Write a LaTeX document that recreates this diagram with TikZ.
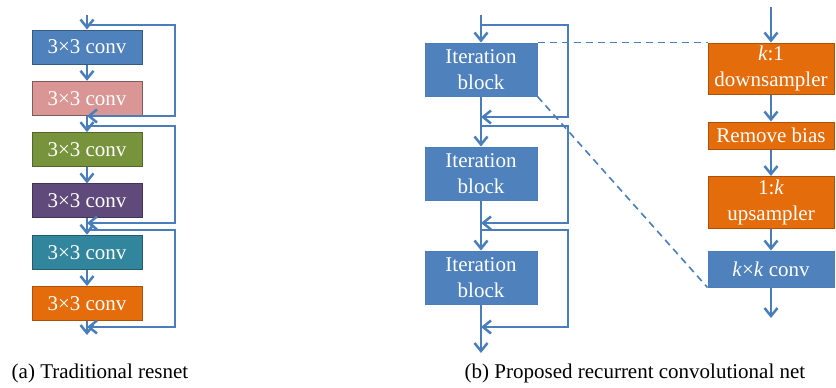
\documentclass[tikz,border=0pt]{standalone}
\usepackage{fontspec}
\setmainfont{Liberation Serif}
\usepackage{tikz}
\usetikzlibrary{arrows.meta,positioning}
\definecolor{lineblue}{HTML}{4A7EBB}
\definecolor{officeblue}{HTML}{4F81BD}
\definecolor{officepink}{HTML}{D99694}
\definecolor{officegreen}{HTML}{77933C}
\definecolor{officepurple}{HTML}{604A7B}
\definecolor{officeteal}{HTML}{31859C}
\definecolor{officeorange}{HTML}{E46C0A}
\tikzstyle{block} = [rectangle, draw, line width=1pt, text=white, inner sep=0pt,
    align=center, font=\fontsize{21}{26}\selectfont]
\tikzstyle{conv} = [block, minimum width=110pt, minimum height=34pt]
\tikzstyle{iter} = [block, fill=officeblue, draw=lineblue, minimum width=112pt, minimum height=53pt]
\tikzstyle{side} = [block, minimum width=126pt]
\tikzstyle{line} = [draw=lineblue, line width=2.5pt, -{Straight Barb[length=8pt,width=13pt]}]
\tikzstyle{zoomline} = [draw=lineblue, line width=1.6pt, dash pattern=on 7pt off 5pt]

\begin{document}
\begin{tikzpicture}[x=1pt, y=-1pt, on grid]
  \useasboundingbox (0,0) rectangle (836,388);
   % Traditional resnet
    \node [conv, fill=officeblue, draw=officeblue!70!black] at (87,47) (c1) {3×3 conv};
    \node [conv, fill=officepink, draw=officepink!60!black, below=51.3pt of c1] (c2) {3×3 conv};
    \node [conv, fill=officegreen, draw=officegreen!70!black, below=51.3pt of c2] (c3) {3×3 conv};
    \node [conv, fill=officepurple, draw=officepurple!70!black, below=51.3pt of c3] (c4) {3×3 conv};
    \node [conv, fill=officeteal, draw=officeteal!70!black, below=51.3pt of c4] (c5) {3×3 conv};
    \node [conv, fill=officeorange, draw=officeorange!75!black, below=51.3pt of c5] (c6) {3×3 conv};
    \coordinate (rin) at (87,15);
    \coordinate (rout) at (87,335);
    \coordinate (rj1) at (87,25);
    \coordinate (rm1) at (87,116);
    \coordinate (rj2) at (87,126);
    \coordinate (rm2) at (87,223);
    \coordinate (rj3) at (87,230);
    \coordinate (rm3) at (87,327);
    \path [line] (rin) -- (c1);
    \path [line] (c1) -- (c2);
    \path [line] (c2) -- (c3);
    \path [line] (c3) -- (c4);
    \path [line] (c4) -- (c5);
    \path [line] (c5) -- (c6);
    \path [line] (c6) -- (rout);
    \path [line] (rj1) -- ++(88,0) |- (rm1);
    \path [line] (rj2) -- ++(88,0) |- (rm2);
    \path [line] (rj3) -- ++(88,0) |- (rm3);
   % Recurrent net
    \node [iter] at (481,69.5) (it1) {Iteration\\block};
    \node [iter, below=104pt of it1] (it2) {Iteration\\block};
    \node [iter, below=104pt of it2] (it3) {Iteration\\block};
    \coordinate (nin) at (481,15);
    \coordinate (nout) at (481,353);
    \coordinate (nj1) at (481,25);
    \coordinate (nm1) at (481,117);
    \coordinate (nj2) at (481,126);
    \coordinate (nm2) at (481,223);
    \coordinate (nj3) at (481,230);
    \coordinate (nm3) at (481,327);
    \path [line] (nin) -- (it1);
    \path [line] (it1) -- (it2);
    \path [line] (it2) -- (it3);
    \path [line] (it3) -- (nout);
    \path [line] (nj1) -- ++(87,0) |- (nm1);
    \path [line] (nj2) -- ++(87,0) |- (nm2);
    \path [line] (nj3) -- ++(87,0) |- (nm3);
   % Inside of an iteration block
    \node [side, fill=officeorange, draw=officeorange!75!black, minimum height=51pt] at (771,68.5) (down) {\textit{k}:1\\downsampler};
    \node [side, fill=officeorange, draw=officeorange!75!black, minimum height=27pt, below=67pt of down] (bias) {Remove bias};
    \node [side, fill=officeorange, draw=officeorange!75!black, minimum height=52pt, below=67pt of bias] (up) {1:\textit{k}\\upsampler};
    \node [side, fill=officeblue, draw=lineblue, minimum height=36pt, below=66.5pt of up] (kconv) {\textit{k}×\textit{k} conv};
    \coordinate (sin) at (771,7);
    \coordinate (sout) at (771,318);
    \path [line] (sin) -- (down);
    \path [line] (down) -- (bias);
    \path [line] (bias) -- (up);
    \path [line] (up) -- (kconv);
    \path [line] (kconv) -- (sout);
    \path [zoomline] (it1.north east) -- (down.north west);
    \path [zoomline] (it1.south east) -- (kconv.south west);
   % Captions
    \node [font=\fontsize{21}{24}\selectfont] at (100,373) (capa) {(a) Traditional resnet};
    \node [font=\fontsize{21}{24}\selectfont] at (635,373) (capb) {(b) Proposed recurrent convolutional net};
  \end{tikzpicture}
\end{document}
